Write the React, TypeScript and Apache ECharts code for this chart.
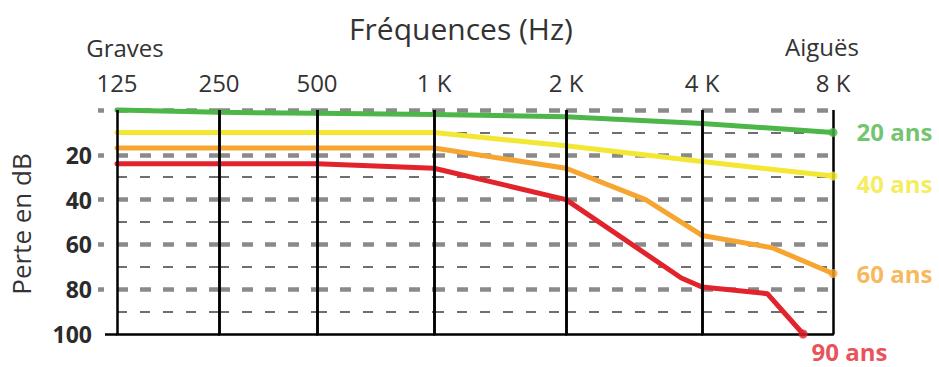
import React, { useEffect, useRef } from 'react';
import * as echarts from 'echarts';

// Frequency axis (Hz) and its tick labels
const freqHz = [125, 250, 500, 1000, 2000, 4000, 8000];
const freqLabels = ['125', '250', '500', '1 K', '2 K', '4 K', '8 K'];

// Hearing loss in dB by age, as [frequency Hz, loss dB]
const ages = ['20 ans', '40 ans', '60 ans', '90 ans'];
const loss20 = [[125, 0], [250, 1], [500, 1.5], [1000, 2], [2000, 3], [4000, 6], [8000, 10]];
const loss40 = [[125, 10], [250, 10], [500, 10], [1000, 10], [2000, 16], [4000, 23], [8000, 29.5]];
const loss60 = [[125, 17], [250, 17], [500, 17], [1000, 17], [2000, 26], [3000, 40], [4000, 56], [5800, 61.5], [8000, 73]];
const loss90 = [[125, 24], [250, 24], [500, 24], [1000, 26], [2000, 40], [3600, 75], [4000, 79], [5650, 82], [6830, 100]];

const dbMajorTicks = [0, 20, 40, 60, 80];
const dbMax = 100;

export default function App() {
  const ref = useRef<HTMLDivElement>(null);

  useEffect(() => {
    document.body.style.margin = '0';
    const chart = echarts.init(ref.current!, null, { renderer: 'svg' });
    const FONT = '"Open Sans", "Noto Sans", sans-serif';
    const colors = ['#4cb648', '#f2e834', '#f6a630', '#e3232c'];
    const lossSets = [loss20, loss40, loss60, loss90];
    const octave = (f: number) => Math.log2(f / freqHz[0]);

    // layout: octave columns as drawn in the reference
    const bounds = [117, 219, 317, 434, 566, 702, 833];
    const top = 110;
    const height = 224;

    const grids: any[] = [];
    const xAxes: any[] = [];
    const yAxes: any[] = [];
    const series: any[] = [];

    for (let i = 0; i < 6; i++) {
      grids.push({ left: bounds[i], top, width: bounds[i + 1] - bounds[i], height });
      xAxes.push({
        type: 'value', gridIndex: i, position: 'top', min: i, max: i + 1, interval: 1, z: 3,
        axisLine: { show: false, onZero: false }, axisTick: { show: false },
        axisLabel: {
          show: true, margin: 16, fontFamily: FONT, fontSize: 24, color: '#333',
          showMinLabel: true, showMaxLabel: i === 5,
          formatter: (v: number) => freqLabels[Math.round(v)],
        },
        splitLine: { show: true, showMinLine: true, showMaxLine: true, lineStyle: { color: '#000', width: 2.5, type: 'solid' } },
      });
      xAxes.push({
        type: 'value', gridIndex: i, position: 'bottom', min: i, max: i + 1, interval: 1, z: 3,
        axisLine: { show: true, onZero: false, lineStyle: { color: '#000', width: 2.5 } },
        axisTick: { show: false }, axisLabel: { show: false }, splitLine: { show: false },
      });
      yAxes.push({
        type: 'value', gridIndex: i, inverse: true, min: 0, max: dbMax, interval: 20,
        axisLine: { show: false, onZero: false },
        axisTick: { show: false },
        axisLabel: i === 0
          ? {
              show: true, margin: 25, fontFamily: FONT, fontWeight: 'bold', fontSize: 23, color: '#2b2b2b',
              formatter: (v: number) => (v === 0 ? '' : String(v)),
            }
          : { show: false },
        splitLine: { show: true, showMinLine: true, showMaxLine: false, lineStyle: { color: '#8a8a8a', width: 4.5, type: [11, 12] } },
        minorTick: { show: false, splitNumber: 2 },
        minorSplitLine: { show: true, lineStyle: { color: '#6f6f6f', width: 1.8, type: [10, 13] } },
      });
    }
    // small grey marks left of the first column
    yAxes.push({
      type: 'value', gridIndex: 0, inverse: true, min: 0, max: dbMax, interval: 20, position: 'left', offset: 13,
      axisLine: { show: false, onZero: false },
      axisTick: { show: true, customValues: dbMajorTicks, length: 6, lineStyle: { color: '#8a8a8a', width: 4.5 } },
      axisLabel: { show: false }, splitLine: { show: false },
    });
    // black base line extending left of the first column
    yAxes.push({
      type: 'value', gridIndex: 0, inverse: true, min: 0, max: dbMax, interval: 20, position: 'left', offset: 0,
      axisLine: { show: false, onZero: false },
      axisTick: { show: true, customValues: [dbMax], length: 12, lineStyle: { color: '#000', width: 2.5 } },
      axisLabel: { show: false }, splitLine: { show: false },
    });

    lossSets.forEach((set, a) => {
      const pts = set.map(([f, db]) => [octave(f), db]);
      for (let i = 0; i < 6; i++) {
        const seg = pts.filter((p) => p[0] >= i - 1e-6 && p[0] <= i + 1 + 1e-6);
        if (seg.length < 2) continue;
        series.push({
          type: 'line', name: ages[a], xAxisIndex: 2 * i, yAxisIndex: i, data: seg,
          showSymbol: false, symbol: 'none', clip: false, silent: true, z: 2 + a * 0.1,
          lineStyle: { color: colors[a], width: 5, cap: 'round', join: 'round' },
        });
      }
    });

    const labelPlacement = [
      { distance: 19, offset: [0, -1] },
      { distance: 19, offset: [0, 7] },
      { distance: 19, offset: [0, 0] },
      { distance: 4, offset: [0, 17] },
    ];
    series.push({
      type: 'scatter', xAxisIndex: 10, yAxisIndex: 5, clip: false, silent: true, symbolSize: 9, z: 5,
      data: lossSets.map((set, a) => {
        const last = set[set.length - 1];
        return {
          value: [octave(last[0]), last[1]],
          itemStyle: { color: colors[a] },
          label: {
            show: true, formatter: ages[a], position: 'right',
            distance: labelPlacement[a].distance, offset: labelPlacement[a].offset,
            color: colors[a], fontFamily: FONT, fontWeight: 'bold', fontSize: 24,
          },
        };
      }),
    });

    const txt = (text: string, x: number, y: number, fontSize: number, rotation = 0) => ({
      type: 'text', x, y, rotation, silent: true,
      style: {
        text, fontSize, fontFamily: FONT, fill: '#333',
        align: 'center', verticalAlign: 'middle', textAlign: 'center', textVerticalAlign: 'middle',
      },
    });

    chart.setOption({
      animation: false,
      backgroundColor: '#fff',
      grid: grids,
      xAxis: xAxes,
      yAxis: yAxes,
      series,
      graphic: [
        txt('Fréquences (Hz)', 461, 28, 30),
        txt('Graves', 125, 47, 24),
        txt('Aiguës', 822, 46, 24),
        txt('Perte en dB', 21, 224, 26, Math.PI / 2),
      ],
    });

    return () => chart.dispose();
  }, []);

  return <div ref={ref} style={{ position: 'absolute', left: 0, top: 0, width: 939, height: 367 }} />;
}
